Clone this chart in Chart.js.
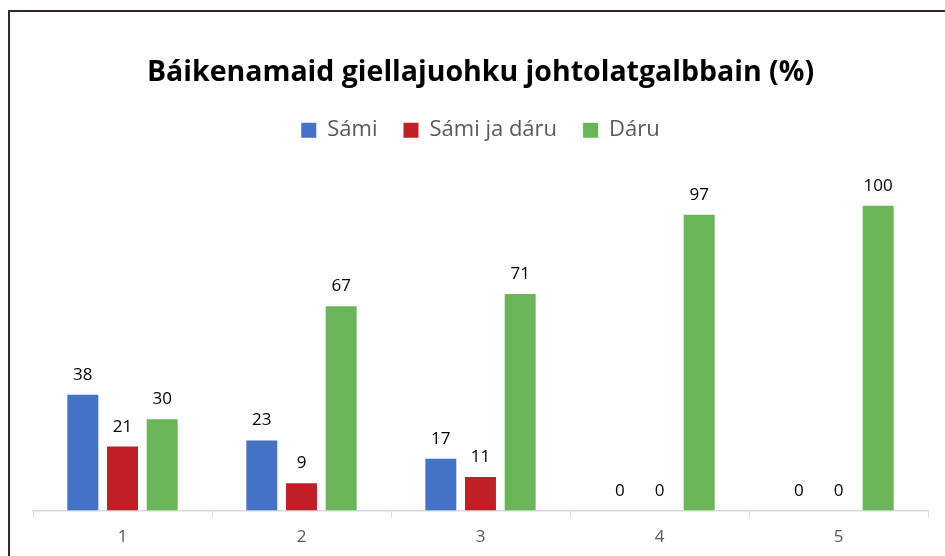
<!DOCTYPE html>
<html>
<head>
<meta charset="utf-8">
<script src="https://cdn.jsdelivr.net/npm/chart.js@4/dist/chart.umd.min.js"></script>
<style>
  html, body { margin: 0; padding: 0; background: #fff; overflow: hidden; }
  #wrap { position: relative; width: 945px; height: 556px; }
  #ramma { position: absolute; left: 8px; top: 10px; width: 1000px; height: 1000px; border: 2px solid #3b2626; box-sizing: border-box; }
  canvas { position: absolute; left: 0; top: 0; }
</style>
</head>
<body>
<div id="wrap">
  <div id="ramma"></div>
  <canvas id="grafa" width="945" height="556"></canvas>
</div>
<script>
const kategoriijat = ['1', '2', '3', '4', '5'];
const sami = [38, 23, 17, 0, 0];
const samiJaDaru = [21, 9, 11, 0, 0];
const daru = [30, 67, 71, 97, 100];

const fonta = '"Open Sans", "Noto Sans", sans-serif';

// árvvut stolpaid bajábealde
const arvoLabelat = {
  id: 'arvoLabelat',
  afterDatasetsDraw(chart) {
    const ctx = chart.ctx;
    ctx.save();
    ctx.font = '17px ' + fonta;
    ctx.fillStyle = '#000';
    ctx.textAlign = 'center';
    ctx.textBaseline = 'alphabetic';
    chart.data.datasets.forEach((ds, i) => {
      chart.getDatasetMeta(i).data.forEach((bar, j) => {
        ctx.fillText(ds.data[j], bar.x, bar.y - 15);
      });
    });
    ctx.restore();
  }
};

// legenda vuolábealde eanet sadji
const legendaSadji = {
  id: 'legendaSadji',
  beforeInit(chart) {
    const fit = chart.legend.fit;
    chart.legend.fit = function () {
      fit.bind(chart.legend)();
      this.height += 24;
    };
  }
};

new Chart(document.getElementById('grafa'), {
  type: 'bar',
  data: {
    labels: kategoriijat,
    datasets: [
      { label: 'Sámi', data: sami, backgroundColor: '#4472C4' },
      { label: 'Sámi ja dáru', data: samiJaDaru, backgroundColor: '#C11F26' },
      { label: 'Dáru', data: daru, backgroundColor: '#6AB557' }
    ]
  },
  options: {
    responsive: false,
    animation: false,
    categoryPercentage: 0.665,
    barPercentage: 0.78,
    layout: { padding: { left: 33, right: 17, top: 0, bottom: 0 } },
    plugins: {
      tooltip: { enabled: false },
      title: {
        display: true,
        text: 'Báikenamaid giellajuohku johtolatgalbbain (%)',
        color: '#000',
        font: { family: fonta, size: 28.5, weight: 'bold' },
        padding: { top: 56, bottom: 3 }
      },
      legend: {
        position: 'top',
        labels: {
          color: '#595959',
          font: { family: fonta, size: 22 },
          boxWidth: 15,
          boxHeight: 15,
          padding: 26
        }
      }
    },
    scales: {
      x: {
        grid: { offset: true, drawOnChartArea: false, color: '#d9d9d9', tickLength: 7 },
        border: { color: '#d9d9d9', width: 1.5 },
        ticks: { color: '#595959', font: { family: fonta, size: 17 }, padding: 9 }
      },
      y: {
        display: false,
        min: 0,
        max: 110
      }
    }
  },
  plugins: [arvoLabelat, legendaSadji]
});
</script>
</body>
</html>
